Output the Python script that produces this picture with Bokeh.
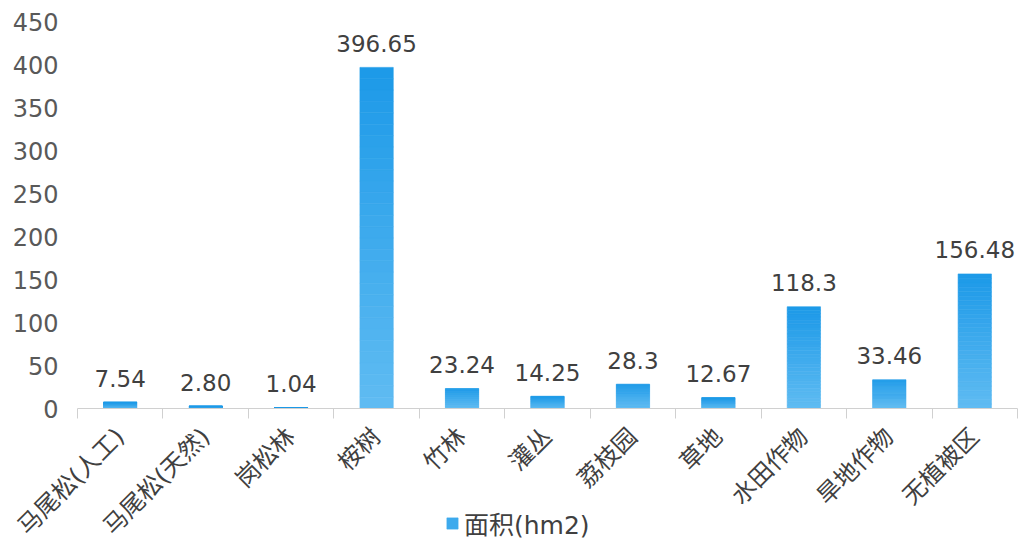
import math
from bokeh.plotting import figure
from bokeh.models import (ColumnDataSource, Range1d, FixedTicker, Legend, LegendItem)
from bokeh.core.properties import value
from bokeh.embed import file_html
from bokeh.resources import INLINE

# ---- data ----
categories = ["马尾松(人工)", "马尾松(天然)", "岗松林", "桉树", "竹林", "灌丛",
              "荔枝园", "草地", "水田作物", "旱地作物", "无植被区"]
areas = [7.54, 2.80, 1.04, 396.65, 23.24, 14.25, 28.3, 12.67, 118.3, 33.46, 156.48]
area_labels = ["7.54", "2.80", "1.04", "396.65", "23.24", "14.25", "28.3",
               "12.67", "118.3", "33.46", "156.48"]
y_ticks = [0, 50, 100, 150, 200, 250, 300, 350, 400, 450]
series_name = "面积(hm2)"

FONT = "'DejaVu Sans', 'Noto Sans CJK SC'"
TOP_RGB = (28, 153, 232)
BOT_RGB = (96, 188, 242)
N_SEG = 30

W, H = 1019, 544
X0_PX, X1_PX = 77, 1017     # pixel columns of the category band's two ends
Y0_PX, Y1_PX = 408, 21      # pixel rows of value 0 and of the top tick
Y_MAX = y_ticks[-1]
n = len(categories)

# the frame fills the whole figure; axes are pinned inside it
ppx = (X1_PX - X0_PX) / n
ppy = (Y0_PX - Y1_PX) / Y_MAX
x_range = Range1d(-X0_PX / ppx, n + (W - X1_PX) / ppx)
y_range = Range1d(-(H - Y0_PX) / ppy, Y_MAX + Y1_PX / ppy)

centers = [i + 0.5 for i in range(n)]
bounds = [float(i) for i in range(n + 1)]

# gradient bars: each bar split into stacked slices (fractions of its own value)
seg = dict(x=[], bottom=[], top=[], color=[])
for c, v in zip(centers, areas):
    for k in range(N_SEG):
        t = (k + 0.5) / N_SEG
        rgb = tuple(int(round(BOT_RGB[j] * (1 - t) + TOP_RGB[j] * t)) for j in range(3))
        seg["x"].append(c)
        seg["bottom"].append(v * k / N_SEG)
        seg["top"].append(v * (k + 1) / N_SEG)
        seg["color"].append("#%02x%02x%02x" % rgb)
seg_src = ColumnDataSource(seg)
lab_src = ColumnDataSource(dict(x=centers, y=areas, text=area_labels))

p = figure(width=W, height=H, output_backend="svg", toolbar_location=None,
           x_range=x_range, y_range=y_range,
           min_border_left=0, min_border_right=0, min_border_top=0,
           min_border_bottom=0)
p.outline_line_color = None
p.xgrid.visible = False
p.ygrid.visible = False
p.background_fill_color = "white"
p.border_fill_color = "white"

bars = p.vbar(x="x", bottom="bottom", top="top", width=0.39, source=seg_src,
              fill_color="color", line_color="color", line_width=0.6)

p.text(x="x", y="y", text="text", source=lab_src, text_align="center",
       text_baseline="alphabetic", y_offset=-24, text_font=value(FONT),
       text_font_size="23px", text_color="#404040")

# y axis, pinned at the left end of the category band
ya = p.yaxis[0]
ya.fixed_location = 0
ya.ticker = FixedTicker(ticks=y_ticks)
ya.axis_line_color = None
ya.major_tick_line_color = None
ya.minor_tick_line_color = None
ya.major_tick_out = 0
ya.major_tick_in = 0
ya.major_label_standoff = 19
ya.major_label_text_font = FONT
ya.major_label_text_font_size = "24px"
ya.major_label_text_color = "#595959"

# x axis, pinned at value 0, spanning only the category band
xa = p.xaxis[0]
xa.fixed_location = 0
xa.bounds = (0, n)
xa.ticker = FixedTicker(ticks=centers, minor_ticks=bounds)
xa.major_label_overrides = {c: name for c, name in zip(centers, categories)}
xa.axis_line_color = "#d0d0d0"
xa.major_tick_line_color = None
xa.major_tick_out = 0
xa.major_tick_in = 0
xa.minor_tick_line_color = "#d0d0d0"
xa.minor_tick_out = 10
xa.minor_tick_in = 0
xa.major_label_orientation = math.pi / 4
xa.major_label_standoff = 14
xa.major_label_text_font = FONT
xa.major_label_text_font_size = "24px"
xa.major_label_text_color = "#404040"

legend = Legend(items=[LegendItem(label=series_name, renderers=[bars], index=N_SEG // 2)],
                location=(445, 3), orientation="horizontal",
                padding=0, margin=0, spacing=0, border_line_color=None,
                background_fill_alpha=0, glyph_width=14, glyph_height=14,
                label_standoff=5, label_height=25,
                label_text_font=FONT, label_text_font_size="25px",
                label_text_color="#404040")
p.add_layout(legend, "center")

open("out.html", "w").write(file_html(p, INLINE))
